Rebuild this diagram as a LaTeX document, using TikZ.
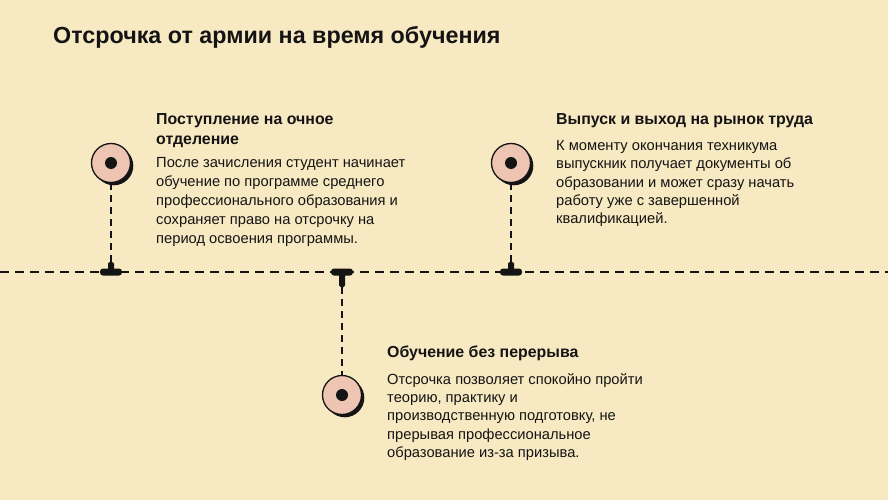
\documentclass[tikz,border=0pt]{standalone}
\usepackage{fontspec}
\setmainfont{Liberation Sans}
\definecolor{bg}{RGB}{247,233,193}
\definecolor{pinkfill}{RGB}{237,197,178}
\definecolor{ink}{RGB}{20,20,20}
\tikzset{
  timeline/.style={line width=2pt, draw=ink, dash pattern=on 9pt off 6pt},
  stem/.style={line width=1.5pt, draw=ink, dash pattern=on 7pt off 5pt},
  heading/.style={anchor=north west, inner sep=0pt, align=left, text=ink, font=\bfseries\fontsize{15.9}{20}\selectfont},
  body/.style={anchor=north west, inner sep=0pt, align=left, text=ink, font=\fontsize{14.7}{19}\selectfont},
  tightbody/.style={body, font=\fontsize{14.7}{18.4}\selectfont},
  titlestyle/.style={anchor=north west, inner sep=0pt, text=ink, font=\bfseries\fontsize{23.3}{27}\selectfont},
  disc/.style={circle, minimum size=39pt, inner sep=0pt, fill=pinkfill, draw=ink, line width=1.3pt},
  shadowdisc/.style={circle, minimum size=39pt, inner sep=0pt, fill=ink},
  dot/.style={circle, minimum size=12pt, inner sep=0pt, fill=ink},
}
\begin{document}
\begin{tikzpicture}[x=1pt,y=-1pt]
\fill[bg] (0,0) rectangle (888,500);
\useasboundingbox (0,0) rectangle (888,500);

\node[titlestyle] (title) at (53,26) {Отсрочка от армии на время обучения};

% timeline
\coordinate (tlA) at (0,272);
\coordinate (tlB) at (888,272);
\draw[timeline] (tlA) -- (tlB);

% markers on line
\coordinate (m1) at (111,272);
\coordinate (m2) at (342,272);
\coordinate (m3) at (511,272);
\foreach \m in {m1,m3}{
  \fill[ink, rounded corners=3pt] ([xshift=-11pt,yshift=-3.5pt]\m) rectangle ([xshift=11pt,yshift=3.5pt]\m);
  \fill[ink, rounded corners=1.5pt] ([xshift=-3pt,yshift=0pt]\m) rectangle ([xshift=3pt,yshift=10pt]\m);
}
\fill[ink, rounded corners=3pt] ([xshift=-11pt,yshift=-3.5pt]m2) rectangle ([xshift=11pt,yshift=3.5pt]m2);
\fill[ink, rounded corners=1.5pt] ([xshift=-3pt,yshift=0pt]m2) rectangle ([xshift=3pt,yshift=-15pt]m2);

% discs
\node[shadowdisc] at (113.8,165.8) {};
\node[disc] (c1) at (111,163) {};
\node[dot] at (c1) {};
\node[shadowdisc] at (344.8,397.8) {};
\node[disc] (c2) at (342,395) {};
\node[dot] at (c2) {};
\node[shadowdisc] at (513.8,165.8) {};
\node[disc] (c3) at (511,163) {};
\node[dot] at (c3) {};

% stems
\coordinate (s1) at (111,262);
\coordinate (s2) at (342,287);
\coordinate (s3) at (511,262);
\draw[stem] (c1.south) -- (s1);
\draw[stem] (s2) -- (c2.north);
\draw[stem] (c3.south) -- (s3);

% texts
\node[heading] (h1) at (156,113) {Поступление на очное\\отделение};
\node[body] (b1) at (156,157) {После зачисления студент начинает\\обучение по программе среднего\\профессионального образования и\\сохраняет право на отсрочку на\\период освоения программы.};

\node[heading] (h3) at (556,113) {Выпуск и выход на рынок труда};
\node[tightbody] (b3) at (556,140) {К моменту окончания техникума\\выпускник получает документы об\\образовании и может сразу начать\\работу уже с завершенной\\квалификацией.};

\node[heading] (h2) at (387,346) {Обучение без перерыва};
\node[tightbody] (b2) at (387,373) {Отсрочка позволяет спокойно пройти\\теорию, практику и\\производственную подготовку, не\\прерывая профессиональное\\образование из-за призыва.};
\end{tikzpicture}
\end{document}
